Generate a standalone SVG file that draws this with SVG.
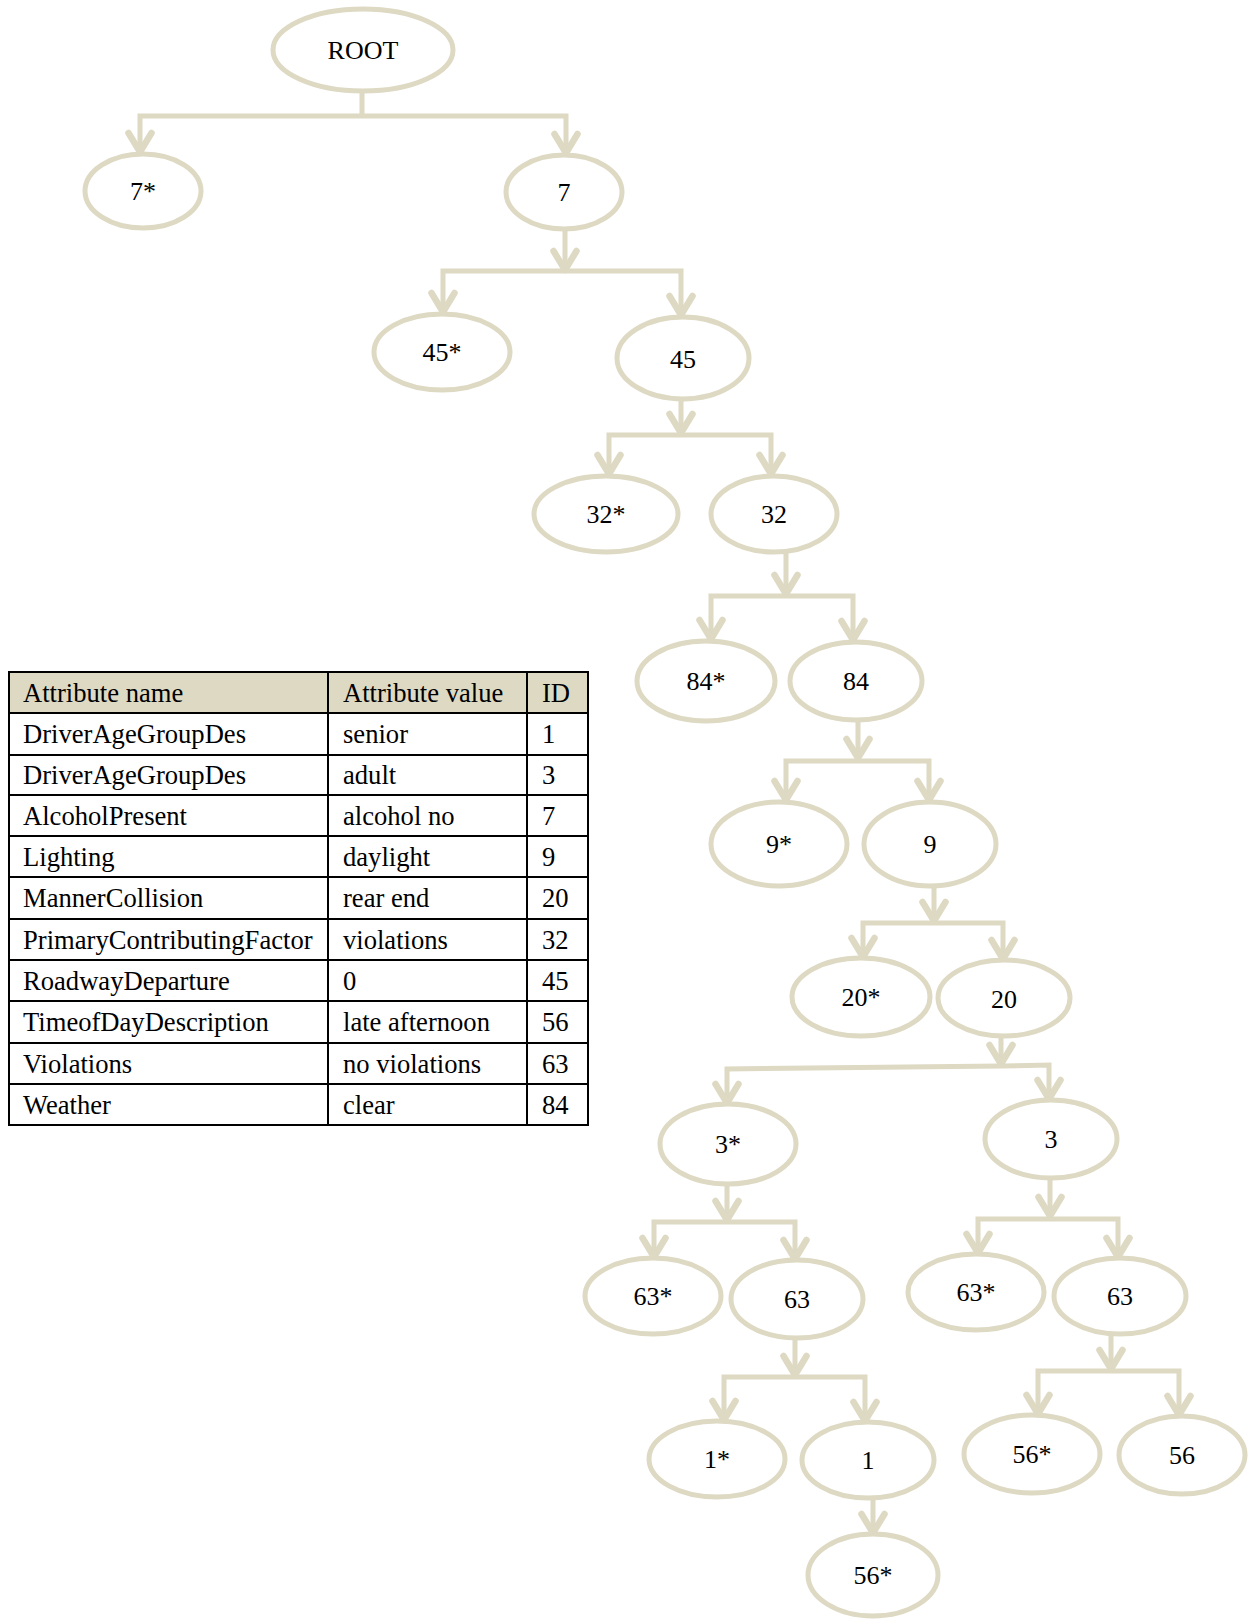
<svg xmlns="http://www.w3.org/2000/svg" width="1248" height="1619" viewBox="0 0 1248 1619">
  <style>
    .node ellipse { fill: #ffffff; stroke: #DDD9C3; stroke-width: 5; }
    .node text { font-family: "Liberation Serif", "Times New Roman", serif; font-size: 26px; fill: #000; text-anchor: middle; }
    .edge { fill: none; stroke: #DDD9C3; stroke-width: 5; stroke-linejoin: miter; }
    .arr { marker-end: url(#chev); }
    .tbl text { font-family: "Liberation Serif", "Times New Roman", serif; font-size: 26.6px; fill: #000; }
    .tbl line { stroke: #000; stroke-width: 2; }
  </style>
  <defs>
    <marker id="chev" markerUnits="userSpaceOnUse" orient="auto" refX="0" refY="0" markerWidth="30" markerHeight="30" overflow="visible">
      <path d="M-19,-11.5 L0,0 L-19,11.5" fill="none" stroke="#DDD9C3" stroke-width="6.5" stroke-linecap="round" stroke-linejoin="round"/>
    </marker>
  </defs>

  <rect width="1248" height="1619" fill="#ffffff"/>

  <!-- connectors: stem into bar, then one elbow per child -->
  <g id="connectors">
    <!-- ROOT -->
    <path class="edge" d="M362,91 V116"/>
    <path class="edge arr" d="M362,116 H140 V152"/>
    <path class="edge arr" d="M362,116 H566 V153"/>
    <!-- 7 -->
    <path class="edge arr" d="M565,229 V270"/>
    <path class="edge arr" d="M565,271 H443 V312"/>
    <path class="edge arr" d="M565,271 H681 V315"/>
    <!-- 45 -->
    <path class="edge arr" d="M681,399 V433"/>
    <path class="edge arr" d="M681,435 H609 V474"/>
    <path class="edge arr" d="M681,435 H771 V474"/>
    <!-- 32 -->
    <path class="edge arr" d="M786,552 V594"/>
    <path class="edge arr" d="M786,596 H711 V639"/>
    <path class="edge arr" d="M786,596 H853 V640"/>
    <!-- 84 -->
    <path class="edge arr" d="M858,720 V758"/>
    <path class="edge arr" d="M858,761 H786 V800"/>
    <path class="edge arr" d="M858,761 H929 V800"/>
    <!-- 9 -->
    <path class="edge arr" d="M934,886 V921"/>
    <path class="edge arr" d="M934,923 H863 V957"/>
    <path class="edge arr" d="M934,923 H1003 V959"/>
    <!-- 20 -->
    <path class="edge arr" d="M1001,1036 V1064"/>
    <path class="edge arr" d="M1001,1066 L727,1069 V1103"/>
    <path class="edge arr" d="M1001,1066 L1049,1065 V1099"/>
    <!-- 3* -->
    <path class="edge arr" d="M727,1184 V1220"/>
    <path class="edge arr" d="M727,1222 H654 V1257"/>
    <path class="edge arr" d="M727,1222 H795 V1259"/>
    <!-- 3 -->
    <path class="edge arr" d="M1050,1178 V1216"/>
    <path class="edge arr" d="M1050,1219 H978 V1253"/>
    <path class="edge arr" d="M1050,1219 H1118 V1257"/>
    <!-- 63 (left) -->
    <path class="edge arr" d="M795,1338 V1375"/>
    <path class="edge arr" d="M795,1377 H724 V1420"/>
    <path class="edge arr" d="M795,1377 H865 V1421"/>
    <!-- 63 (right) -->
    <path class="edge arr" d="M1111,1334 V1369"/>
    <path class="edge arr" d="M1111,1371 H1038 V1414"/>
    <path class="edge arr" d="M1111,1371 H1179 V1415"/>
    <!-- 1 -->
    <path class="edge arr" d="M873,1498 V1533"/>
  </g>

  <g id="n-root" class="node"><ellipse cx="363" cy="50" rx="90" ry="41"/><text x="363" y="59">ROOT</text></g>
  <g id="n-7s" class="node"><ellipse cx="143" cy="191" rx="58" ry="37"/><text x="143" y="200">7*</text></g>
  <g id="n-7" class="node"><ellipse cx="564" cy="192" rx="58" ry="37"/><text x="564" y="201">7</text></g>
  <g id="n-45s" class="node"><ellipse cx="442" cy="352" rx="68" ry="38"/><text x="442" y="361">45*</text></g>
  <g id="n-45" class="node"><ellipse cx="683" cy="358" rx="66" ry="41"/><text x="683" y="368">45</text></g>
  <g id="n-32s" class="node"><ellipse cx="606" cy="514" rx="72" ry="38"/><text x="606" y="523">32*</text></g>
  <g id="n-32" class="node"><ellipse cx="774" cy="514" rx="63" ry="38"/><text x="774" y="523">32</text></g>
  <g id="n-84s" class="node"><ellipse cx="706" cy="681" rx="69" ry="40"/><text x="706" y="690">84*</text></g>
  <g id="n-84" class="node"><ellipse cx="856" cy="681" rx="66" ry="39"/><text x="856" y="690">84</text></g>
  <g id="n-9s" class="node"><ellipse cx="779" cy="844" rx="68" ry="42"/><text x="779" y="853">9*</text></g>
  <g id="n-9" class="node"><ellipse cx="930" cy="844" rx="66" ry="42"/><text x="930" y="853">9</text></g>
  <g id="n-20s" class="node"><ellipse cx="861" cy="997" rx="69" ry="39"/><text x="861" y="1006">20*</text></g>
  <g id="n-20" class="node"><ellipse cx="1004" cy="998" rx="66" ry="38"/><text x="1004" y="1008">20</text></g>
  <g id="n-3s" class="node"><ellipse cx="728" cy="1144" rx="68" ry="40"/><text x="728" y="1153">3*</text></g>
  <g id="n-3" class="node"><ellipse cx="1051" cy="1139" rx="66" ry="39"/><text x="1051" y="1148">3</text></g>
  <g id="n-63s-a" class="node"><ellipse cx="653" cy="1296" rx="68" ry="38"/><text x="653" y="1305">63*</text></g>
  <g id="n-63-a" class="node"><ellipse cx="797" cy="1299" rx="66" ry="39"/><text x="797" y="1308">63</text></g>
  <g id="n-63s-b" class="node"><ellipse cx="976" cy="1292" rx="68" ry="38"/><text x="976" y="1301">63*</text></g>
  <g id="n-63-b" class="node"><ellipse cx="1120" cy="1296" rx="66" ry="38"/><text x="1120" y="1305">63</text></g>
  <g id="n-1s" class="node"><ellipse cx="717" cy="1459" rx="68" ry="38"/><text x="717" y="1468">1*</text></g>
  <g id="n-1" class="node"><ellipse cx="868" cy="1460" rx="66" ry="38"/><text x="868" y="1469">1</text></g>
  <g id="n-56s-b" class="node"><ellipse cx="1032" cy="1454" rx="68" ry="39"/><text x="1032" y="1463">56*</text></g>
  <g id="n-56-b" class="node"><ellipse cx="1182" cy="1455" rx="63" ry="39"/><text x="1182" y="1464">56</text></g>
  <g id="n-56s-a" class="node"><ellipse cx="873" cy="1575" rx="65" ry="41"/><text x="873" y="1584">56*</text></g>

  <!-- attribute legend table -->
  <g id="legend" class="tbl">
    <rect x="9" y="672" width="579" height="41" fill="#DDD9C3"/>
    <rect x="9" y="672" width="579" height="453" fill="none" stroke="#000" stroke-width="2"/>
    <line x1="328" y1="672" x2="328" y2="1125"/>
    <line x1="527" y1="672" x2="527" y2="1125"/>
    <line x1="9" y1="713" x2="588" y2="713"/>
    <line x1="9" y1="755" x2="588" y2="755"/>
    <line x1="9" y1="795" x2="588" y2="795"/>
    <line x1="9" y1="836" x2="588" y2="836"/>
    <line x1="9" y1="877" x2="588" y2="877"/>
    <line x1="9" y1="919" x2="588" y2="919"/>
    <line x1="9" y1="960" x2="588" y2="960"/>
    <line x1="9" y1="1001" x2="588" y2="1001"/>
    <line x1="9" y1="1043" x2="588" y2="1043"/>
    <line x1="9" y1="1084" x2="588" y2="1084"/>

    <text x="23" y="702">Attribute name</text><text x="343" y="702">Attribute value</text><text x="542" y="702">ID</text>
    <text x="23" y="743">DriverAgeGroupDes</text><text x="343" y="743">senior</text><text x="542" y="743">1</text>
    <text x="23" y="784">DriverAgeGroupDes</text><text x="343" y="784">adult</text><text x="542" y="784">3</text>
    <text x="23" y="825">AlcoholPresent</text><text x="343" y="825">alcohol no</text><text x="542" y="825">7</text>
    <text x="23" y="866">Lighting</text><text x="343" y="866">daylight</text><text x="542" y="866">9</text>
    <text x="23" y="907">MannerCollision</text><text x="343" y="907">rear end</text><text x="542" y="907">20</text>
    <text x="23" y="949">PrimaryContributingFactor</text><text x="343" y="949">violations</text><text x="542" y="949">32</text>
    <text x="23" y="990">RoadwayDeparture</text><text x="343" y="990">0</text><text x="542" y="990">45</text>
    <text x="23" y="1031">TimeofDayDescription</text><text x="343" y="1031">late afternoon</text><text x="542" y="1031">56</text>
    <text x="23" y="1073">Violations</text><text x="343" y="1073">no violations</text><text x="542" y="1073">63</text>
    <text x="23" y="1114">Weather</text><text x="343" y="1114">clear</text><text x="542" y="1114">84</text>
  </g>
</svg>
